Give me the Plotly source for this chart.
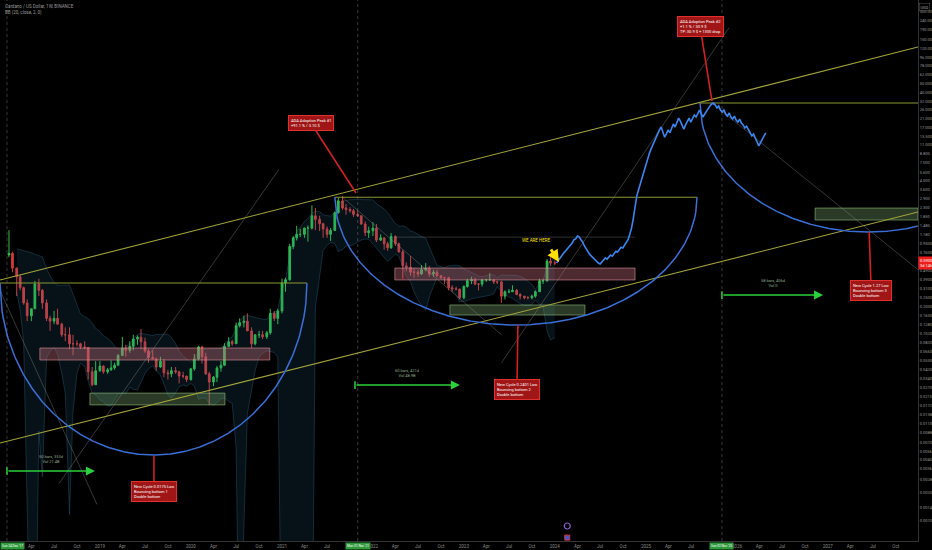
import numpy as np
import pandas as pd
import plotly.graph_objects as go

# ---------------- price data (semi-monthly candles) ----------------
candle_start = "2018-01-01"
first_open = 0.72
closes = [0.75,0.52,0.42,0.32,0.22,0.16,0.19,0.35,0.30,0.22,0.15,0.14,0.15,0.13,0.10,0.10,0.08,0.08,0.08,0.074,0.073,0.04,0.029,0.041,
          0.046,0.040,0.042,0.044,0.047,0.060,0.072,0.068,0.075,0.090,0.094,0.084,0.067,0.057,0.055,0.045,0.052,0.039,0.038,0.041,0.040,0.036,0.036,0.033,
          0.043,0.055,0.074,0.058,0.038,0.031,0.035,0.044,0.047,0.075,0.084,0.080,0.125,0.135,0.14,0.11,0.08,0.10,0.10,0.095,0.105,0.17,0.15,0.18,
          0.36,0.39,0.89,1.10,1.20,1.20,1.40,1.40,1.90,1.74,1.56,1.37,1.20,1.32,2.05,2.75,2.30,2.22,2.15,1.97,1.90,1.55,1.25,1.31,
          1.40,1.04,1.10,0.95,0.86,1.14,0.95,0.78,0.55,0.53,0.47,0.47,0.45,0.50,0.52,0.45,0.47,0.43,0.41,0.41,0.32,0.31,0.31,0.25,
          0.33,0.38,0.39,0.35,0.35,0.39,0.39,0.39,0.37,0.37,0.26,0.29,0.29,0.30,0.27,0.26,0.25,0.25,0.26,0.29,0.38,0.38,0.62,0.59,
          0.59]
highs = [1.33,0.78,0.53,0.44,0.33,0.24,0.19,0.38,0.40,0.31,0.24,0.16,0.18,0.19,0.135,0.12,0.12,0.10,0.087,0.082,0.085,0.074,0.045,0.052,
         0.052,0.047,0.044,0.053,0.050,0.062,0.095,0.078,0.085,0.100,0.098,0.115,0.093,0.070,0.068,0.057,0.058,0.055,0.042,0.045,0.045,0.041,0.040,0.036,
         0.044,0.062,0.076,0.076,0.064,0.040,0.036,0.046,0.052,0.081,0.094,0.088,0.135,0.15,0.16,0.17,0.12,0.10,0.11,0.11,0.11,0.19,0.18,0.19,
         0.40,0.41,0.95,1.15,1.48,1.38,1.42,1.50,2.46,2.30,1.90,1.60,1.46,1.40,2.10,2.97,3.10,2.55,2.35,2.25,2.16,1.90,1.65,1.45,
         1.62,1.55,1.20,1.10,1.00,1.24,1.17,0.98,0.82,0.60,0.70,0.52,0.50,0.56,0.59,0.55,0.50,0.50,0.44,0.42,0.42,0.34,0.33,0.31,
         0.34,0.40,0.42,0.41,0.36,0.40,0.40,0.46,0.39,0.38,0.38,0.30,0.31,0.34,0.31,0.28,0.26,0.26,0.27,0.30,0.40,0.40,0.65,0.68,
         0.63]
lows = [0.68,0.47,0.26,0.30,0.21,0.14,0.14,0.19,0.26,0.19,0.14,0.11,0.13,0.13,0.095,0.085,0.07,0.06,0.075,0.07,0.07,0.033,0.028,0.029,
        0.040,0.038,0.038,0.041,0.042,0.047,0.059,0.058,0.064,0.068,0.078,0.070,0.064,0.050,0.055,0.041,0.044,0.035,0.033,0.035,0.038,0.030,0.034,0.031,
        0.032,0.041,0.053,0.049,0.037,0.0175,0.028,0.031,0.040,0.046,0.074,0.076,0.080,0.12,0.12,0.11,0.072,0.077,0.092,0.09,0.09,0.10,0.14,0.13,
        0.17,0.29,0.38,0.83,1.03,1.12,1.10,1.00,1.35,1.33,1.30,1.10,1.10,1.02,1.30,2.00,2.20,1.95,2.05,1.85,1.85,1.52,1.15,1.10,
        1.15,0.99,1.02,0.82,0.80,0.84,0.90,0.76,0.40,0.48,0.43,0.41,0.42,0.44,0.48,0.42,0.42,0.42,0.40,0.35,0.30,0.29,0.30,0.24,
        0.24,0.32,0.35,0.34,0.30,0.33,0.37,0.38,0.35,0.35,0.22,0.24,0.28,0.29,0.27,0.24,0.24,0.24,0.24,0.25,0.29,0.35,0.37,0.55,
        0.56]

# ---------------- projected path (weekly) ----------------
proj_start = "2024-01-08"
proj_values = [0.59,0.63,0.68,0.72,0.75,0.79,0.83,0.87,0.94,0.97,1.05,1.07,1.15,1.13,1.05,0.99,0.90,0.83,0.79,0.73,
               0.70,0.67,0.63,0.605,0.59,0.575,0.605,0.63,0.67,0.65,0.68,0.72,0.70,0.75,0.79,0.775,0.83,0.87,0.855,0.92,
               0.97,1.05,1.20,1.40,1.76,2.41,3.09,3.59,4.2,4.9,5.6,6.6,7.6,8.6,9.7,10.7,12.1,13.0,14.4,15.9,
               17.1,15.1,13.3,14.4,15.9,14.8,16.7,18.4,17.1,19.3,21.3,19.8,17.4,16.2,18.0,19.8,21.3,19.3,20.8,23.0,
               21.9,24.2,26.0,23.6,21.9,23.6,25.4,27.4,28.8,30.2,30.9,29.5,27.4,28.8,26.0,24.8,26.0,23.6,22.4,24.2,
               21.9,20.8,22.4,20.3,19.3,20.8,18.9,18.0,16.7,17.4,15.9,14.8,13.7,14.4,12.7,11.8,10.7,11.5,12.7,13.7,14.8]

# ---------------- axes ----------------
x_range = ["2017-11-26", "2027-12-29"]
y_range_log = [-3.217, 2.598]
y_ticks = [300, 240, 190, 150, 120, 96, 78, 62, 50, 40, 32, 26, 21, 17, 13.5, 11, 8.8, 7.0, 5.6, 4.5, 3.6, 2.9,
           2.3, 1.85, 1.48, 1.18, 0.95, 0.76, 0.61, 0.49, 0.39, 0.31, 0.25, 0.2, 0.16, 0.128, 0.102, 0.082,
           0.066, 0.053, 0.042, 0.034, 0.027, 0.0215, 0.0172, 0.0138, 0.011, 0.0088, 0.007, 0.0056, 0.0045,
           0.0036, 0.0028, 0.002, 0.0014, 0.001]

# ---------------- drawings ----------------
channel_lines = [(["2017-11-26", "2027-12-29"], [0.388, 123.8]),
                 (["2017-11-26", "2027-12-29"], [0.00685, 2.085])]
rim_lines = [("2017-11-26", "2021-04-11", 0.36),
             ("2021-08-01", "2025-07-25", 3.01),
             ("2025-08-06", "2027-12-29", 30.97)]
cups = [("2017-11-26", "2021-04-11", 0.36, 0.00509),
        ("2021-08-01", "2025-07-25", 3.01, 0.127),
        ("2025-08-06", "2029-04-16", 30.97, 1.27)]
boxes = [("2018-05-05", "2020-11-13", 0.0535, 0.0720, "red"),
         ("2018-11-22", "2020-05-17", 0.0176, 0.0236, "green"),
         ("2022-03-30", "2024-11-18", 0.388, 0.521, "red"),
         ("2022-11-06", "2024-05-01", 0.163, 0.209, "green"),
         ("2026-11-11", "2027-12-29", 1.71, 2.30, "green")]
range_top_line = ("2022-03-30", "2024-11-18", 1.12)
fan_lines = [(["2018-07-20", "2020-12-20"], [0.0025, 6.0]),
             (["2017-11-26", "2018-12-20"], [0.30, 0.0015]),
             (["2021-09-01", "2023-06-01"], [3.0, 0.10]),
             (["2023-06-01", "2025-12-01"], [0.05, 200.0]),
             (["2025-09-23", "2027-12-29"], [30.9, 0.50])]
callouts = [("2021-10-25", 3.34, "2021-04-27", 18.9, "ADA Adoption Peak #1<br>+91.1 % / 3.10 $"),
            ("2023-08-06", 0.127, "2023-08-02", 0.0255, "New Cycle 0.2401 Low<br>Bouncing bottom 2<br>Double bottom"),
            ("2019-08-06", 0.0050, "2019-08-06", 0.00209, "New Cycle 0.0175 Low<br>Bouncing bottom 1<br>Double bottom"),
            ("2025-09-23", 32.5, "2025-08-06", 208.0, "ADA Adoption Peak #2<br>+1.1 % / 30.9 $<br>TP: 30.9 $ + 1300 drop"),
            ("2027-06-16", 1.27, "2027-06-24", 0.302, "New Cycle 1.27 Low<br>Bouncing bottom 3<br>Double bottom")]
ranges = [("2017-12-24", "2018-12-12", 0.00343, "50 bars, 353d<br>Vol 21.4B"),
          ("2021-10-21", "2022-12-16", 0.0288, "60 bars, 421d<br>Vol 48.9B"),
          ("2025-11-02", "2026-12-13", 0.267, "58 bars, 406d<br>Vol 0")]
marker_dates = ["2017-12-24", "2021-11-01", "2025-11-02"]
marker_labels = ["Sun 24 Dec '17", "Mon 01 Nov '21", "Sun 02 Nov '25"]
here_text = ("2023-10-21", 1.04, "WE ARE HERE")
here_arrow = ("2024-01-18", 0.605, "2023-12-13", 0.856)
event_icon = ("2024-02-20", 0.00088, 0.00066)
last_price = 0.59

lg = np.log10
fig = go.Figure()

# Bollinger band
dates = pd.date_range(candle_start, periods=len(closes), freq="SMS")
s = pd.Series(closes)
basis = s.rolling(10, min_periods=3).mean()
dev = s.rolling(10, min_periods=3).std(ddof=0)
upper = basis + 2 * dev
lower = (basis - 2 * dev).clip(lower=1e-5)
fig.add_trace(go.Scatter(x=dates, y=upper, mode="lines", line=dict(color="rgba(70,140,180,0.35)", width=0.8),
                         hoverinfo="skip", showlegend=False))
fig.add_trace(go.Scatter(x=dates, y=lower, mode="lines", line=dict(color="rgba(70,140,180,0.35)", width=0.8),
                         fill="tonexty", fillcolor="rgba(40,120,160,0.15)", hoverinfo="skip", showlegend=False))

# boxes
for x0, x1, plo, phi, kind in boxes:
    if kind == "red":
        fc, lc = "rgba(200,110,125,0.38)", "rgba(230,150,160,0.7)"
    else:
        fc, lc = "rgba(120,165,110,0.35)", "rgba(150,200,130,0.7)"
    fig.add_trace(go.Scatter(x=[x0, x1, x1, x0, x0], y=[plo, plo, phi, phi, plo], mode="lines", fill="toself",
                             fillcolor=fc, line=dict(color=lc, width=0.8), hoverinfo="skip", showlegend=False))
fig.add_trace(go.Scatter(x=[range_top_line[0], range_top_line[1]], y=[range_top_line[2]] * 2, mode="lines",
                         line=dict(color="rgba(170,170,170,0.35)", width=0.8), hoverinfo="skip", showlegend=False))

# candles
opens = [first_open] + closes[:-1]
fig.add_trace(go.Candlestick(x=dates, open=opens, high=highs, low=lows, close=closes,
                             increasing=dict(line=dict(color="#2fbf4a", width=1), fillcolor="#2fbf4a"),
                             decreasing=dict(line=dict(color="#d23a3a", width=1), fillcolor="#d23a3a"),
                             whiskerwidth=0, showlegend=False))

# fan lines
for xs, ys in fan_lines:
    fig.add_trace(go.Scatter(x=xs, y=ys, mode="lines", line=dict(color="rgba(150,150,150,0.45)", width=0.8),
                             hoverinfo="skip", showlegend=False))
# channel
for xs, ys in channel_lines:
    fig.add_trace(go.Scatter(x=xs, y=ys, mode="lines", line=dict(color="#a3a33a", width=1.1),
                             hoverinfo="skip", showlegend=False))
for x0, x1, p in rim_lines:
    fig.add_trace(go.Scatter(x=[x0, x1], y=[p, p], mode="lines", line=dict(color="#8a9a35", width=1.1),
                             hoverinfo="skip", showlegend=False))

# cups (half-ellipse arcs)
for x0, x1, rim, bot in cups:
    t = np.linspace(-1, 1, 301)
    t0, t1 = pd.Timestamp(x0), pd.Timestamp(x1)
    xs = [t0 + (t1 - t0) * ((v + 1) / 2) for v in t]
    ys = np.exp(np.log(rim) - (np.log(rim) - np.log(bot)) * np.sqrt(1 - t ** 2))
    fig.add_trace(go.Scatter(x=xs, y=ys, mode="lines", line=dict(color="#3a6fd8", width=1.5),
                             hoverinfo="skip", showlegend=False))

# projection
pdates = pd.date_range(proj_start, periods=len(proj_values), freq="7D")
fig.add_trace(go.Scatter(x=pdates, y=proj_values, mode="lines", line=dict(color="#3d86f0", width=1.6),
                         hoverinfo="skip", showlegend=False))

# vertical dotted markers
for d in marker_dates:
    fig.add_trace(go.Scatter(x=[d, d], y=[10 ** y_range_log[0], 10 ** y_range_log[1]], mode="lines",
                             line=dict(color="rgba(160,160,160,0.45)", width=0.8, dash="dot"),
                             hoverinfo="skip", showlegend=False))

# event icon near the time axis
fig.add_trace(go.Scatter(x=[event_icon[0]], y=[event_icon[1]], mode="markers",
                         marker=dict(symbol="circle-open", size=6, color="#8e5bd6", line=dict(width=1.2)),
                         hoverinfo="skip", showlegend=False, cliponaxis=False))
fig.add_trace(go.Scatter(x=[event_icon[0]], y=[event_icon[2]], mode="markers",
                         marker=dict(symbol="square", size=5, color="#3b5bd6", line=dict(color="#e03030", width=1)),
                         hoverinfo="skip", showlegend=False, cliponaxis=False))

# ranges (green)
for x0, x1, p, txt in ranges:
    fig.add_trace(go.Scatter(x=[x0, x0], y=[p / 1.1, p * 1.1], mode="lines", line=dict(color="#2ad13a", width=1.5),
                             hoverinfo="skip", showlegend=False))
    fig.add_annotation(x=x1, y=lg(p), ax=x0, ay=lg(p), xref="x", yref="y", axref="x", ayref="y",
                       text="", showarrow=True, arrowhead=2, arrowsize=1.2, arrowwidth=1.5, arrowcolor="#2ad13a")
    mid = pd.Timestamp(x0) + (pd.Timestamp(x1) - pd.Timestamp(x0)) / 2
    fig.add_annotation(x=mid, y=lg(p), yshift=12, text=txt, showarrow=False,
                       font=dict(size=4, color="#8fa88f", family="Roboto"))

for tx, tp, bx, bp, txt in callouts:
    fig.add_annotation(x=tx, y=lg(tp), ax=bx, ay=lg(bp), xref="x", yref="y", axref="x", ayref="y",
                       text=txt, showarrow=True, arrowhead=0, arrowwidth=1.6, arrowcolor="#d32020",
                       bgcolor="#a01616", bordercolor="#e03030", borderwidth=1, borderpad=2, align="left",
                       font=dict(size=4, color="white", family="Roboto"))

fig.add_annotation(x=here_text[0], y=lg(here_text[1]), text=here_text[2], showarrow=False,
                   font=dict(size=4.5, color="#ffe000", family="Roboto"))
fig.add_annotation(x=here_arrow[0], y=lg(here_arrow[1]), ax=here_arrow[2], ay=lg(here_arrow[3]),
                   xref="x", yref="y", axref="x", ayref="y", text="", showarrow=True,
                   arrowhead=2, arrowsize=0.8, arrowwidth=3, arrowcolor="#ffe000")

# date markers on axis (the first one is pinned to the left edge so it stays whole)
for i, (d, lab) in enumerate(zip(marker_dates, marker_labels)):
    if i == 0:
        fig.add_annotation(x=0, xref="paper", xanchor="left", y=0, yref="paper", yanchor="top", yshift=-1,
                           text=lab, showarrow=False, bgcolor="#2f9a3c",
                           font=dict(size=3.2, color="white", family="Roboto"), borderpad=1)
    else:
        fig.add_annotation(x=d, y=0, yref="paper", yanchor="top", yshift=-1, text=lab, showarrow=False,
                           bgcolor="#2f9a3c", font=dict(size=3.2, color="white", family="Roboto"), borderpad=1)

# header & price label
fig.add_annotation(x=0.003, y=0.997, xref="paper", yref="paper", xanchor="left", yanchor="top",
                   text="Cardano / US Dollar, 1W, BINANCE<br>BB (20, close, 2, 0)", showarrow=False, align="left",
                   font=dict(size=4.5, color="#9a9a9a", family="Roboto"))
fig.add_annotation(x=1.0, y=0.995, xref="paper", yref="paper", xanchor="left", yanchor="top", xshift=1,
                   text="USD", showarrow=False, bordercolor="#555", borderwidth=0.5, borderpad=1,
                   font=dict(size=4, color="#aaa", family="Roboto"))
fig.add_annotation(x=1.0, y=lg(last_price), xref="paper", yref="y", xanchor="left", xshift=0,
                   text="0.5900<br>3d 14h", showarrow=False, bgcolor="#f01c1c",
                   font=dict(size=4, color="white", family="Roboto"), borderpad=1)

# ticks (labels hidden under the highlighted date markers are left out)
qt = pd.date_range("2018-04-01", "2028-01-01", freq="QS")
hidden = {"2021-10", "2025-10"}
qlab = ["" if d.strftime("%Y-%m") in hidden else (str(d.year) if d.month == 1 else d.strftime("%b")) for d in qt]

def fmt(v):
    if v >= 100:
        return f"{v:.2f}"
    if v >= 1:
        return f"{v:.3f}"
    return f"{v:.4f}"

fig.update_layout(
    width=932, height=550, margin=dict(l=0, r=14, t=0, b=9),
    paper_bgcolor="#000000", plot_bgcolor="#000000", showlegend=False,
    xaxis=dict(type="date", range=x_range, showgrid=False, zeroline=False, rangeslider=dict(visible=False),
               tickvals=qt, ticktext=qlab, tickfont=dict(size=4.5, color="#8a8a8a", family="Roboto"),
               ticks="", showline=True, linecolor="#333333", linewidth=1, ticklabelstandoff=1),
    yaxis=dict(type="log", range=y_range_log, side="right", showgrid=False, zeroline=False,
               tickvals=y_ticks, ticktext=[fmt(v) for v in y_ticks],
               tickfont=dict(size=4, color="#9a9a9a", family="Roboto"), ticks="",
               showline=True, linecolor="#333333", linewidth=1),
)

fig.write_html("out.html", config={"displayModeBar": False},
               post_script="document.body.style.margin='0';document.body.style.background='#000';")
